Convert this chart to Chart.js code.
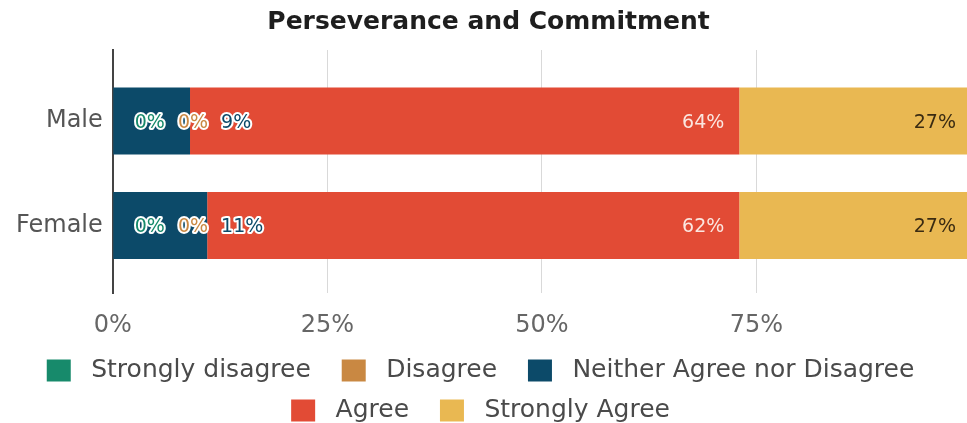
<!DOCTYPE html>
<html>
<head>
<meta charset="utf-8">
<script src="https://cdn.jsdelivr.net/npm/chart.js@4.4.0/dist/chart.umd.min.js"></script>
<style>
  html, body { margin: 0; padding: 0; overflow: hidden; background: #fff; }
  #wrap { width: 975px; height: 433px; }
</style>
</head>
<body>
<div id="wrap"><canvas id="bars"></canvas></div>
<script>
'use strict';

// categories (one bar each) and the share of answers per group, in %
const categories = ['Male', 'Female'];
const seriesNames = ['Strongly disagree', 'Disagree', 'Neither Agree nor Disagree', 'Agree', 'Strongly Agree'];
const stronglyDisagree = [0, 0];
const disagree = [0, 0];
const neither = [9, 11];
const agree = [64, 62];
const stronglyAgree = [27, 27];
const xTickLabels = ['0%', '25%', '50%', '75%'];

const seriesValues = [stronglyDisagree, disagree, neither, agree, stronglyAgree];
const seriesColors = ['#178a6b', '#c98842', '#0c4a69', '#e24b35', '#e9b852'];
// colour of the value text when it sits inside its own segment
const insideTextColors = ['#ffffff', '#ffffff', '#ffffff', '#fbe6e0', '#3a2b12'];

Chart.defaults.font.family = '"DejaVu Sans", sans-serif';

// value labels: right aligned in the segment, pushed right when they would collide
const segmentLabels = {
    id: 'segmentLabels',
    afterDatasetsDraw(chart) {
        const {ctx, chartArea} = chart;
        ctx.save();
        ctx.font = '19px "DejaVu Sans"';
        ctx.textBaseline = 'middle';
        ctx.textAlign = 'left';
        ctx.lineJoin = 'round';
        categories.forEach((cat, i) => {
            let minLeft = chartArea.left + 22;
            chart.data.datasets.forEach((ds, d) => {
                const bar = chart.getDatasetMeta(d).data[i];
                const text = ds.data[i].x + '%';
                const w = ctx.measureText(text).width;
                const left = Math.max(bar.x - 15 - w, minLeft);
                const outside = left < bar.base || left + w > bar.x;
                if (outside) {
                    ctx.lineWidth = 4;
                    ctx.strokeStyle = '#ffffff';
                    ctx.strokeText(text, left, bar.y + 2);
                    ctx.fillStyle = ds.backgroundColor;
                } else {
                    ctx.fillStyle = insideTextColors[d];
                }
                ctx.fillText(text, left, bar.y + 2);
                minLeft = left + w + 13;
            });
        });
        ctx.restore();
    }
};

const datasets = seriesNames.map((name, d) => ({
    label: name,
    data: categories.map((c, i) => ({x: seriesValues[d][i], y: i})),
    backgroundColor: seriesColors[d],
    borderWidth: 0,
    barPercentage: 0.8,
    categoryPercentage: 0.8
}));

new Chart(document.getElementById('bars'), {
    type: 'bar',
    data: {datasets},
    plugins: [segmentLabels],
    options: {
        indexAxis: 'y',
        responsive: true,
        maintainAspectRatio: false,
        animation: false,
        layout: {padding: {left: 6, right: 4, top: 0, bottom: 0}},
        scales: {
            x: {
                type: 'linear',
                stacked: true,
                min: 0,
                max: 100,
                border: {display: false},
                grid: {
                    color: (c) => (c.tick && c.tick.value === 0 ? 'rgba(0,0,0,0)' : '#d9d9d9'),
                    tickColor: 'rgba(0,0,0,0)',
                    tickLength: 16
                },
                ticks: {
                    stepSize: 25,
                    padding: 0,
                    color: '#666',
                    font: {size: 24, lineHeight: 1.4},
                    callback: (v, i) => xTickLabels[i] ?? ''
                }
            },
            y: {
                type: 'linear',
                stacked: true,
                reverse: true,
                offset: false,
                min: -0.68,
                max: 1.65,
                grid: {display: false, drawTicks: false},
                border: {color: '#444', width: 2},
                ticks: {
                    stepSize: 1,
                    includeBounds: false,
                    padding: 10,
                    color: '#555',
                    font: {size: 24},
                    callback: (v) => categories[v] ?? ''
                }
            }
        },
        plugins: {
            title: {
                display: true,
                text: 'Perseverance and Commitment',
                color: '#1e1e1e',
                font: {size: 25, weight: 'bold'},
                padding: {top: 7, bottom: 13}
            },
            legend: {
                position: 'bottom',
                labels: {
                    boxWidth: 24,
                    boxHeight: 22,
                    padding: 15,
                    color: '#4a4a4a',
                    font: {size: 25},
                    generateLabels(chart) {
                        const items = Chart.defaults.plugins.legend.labels.generateLabels(chart);
                        items.forEach((it) => { it.text = ' ' + it.text + '  '; });
                        return items;
                    }
                }
            },
            tooltip: {enabled: false}
        }
    }
});
</script>
</body>
</html>
